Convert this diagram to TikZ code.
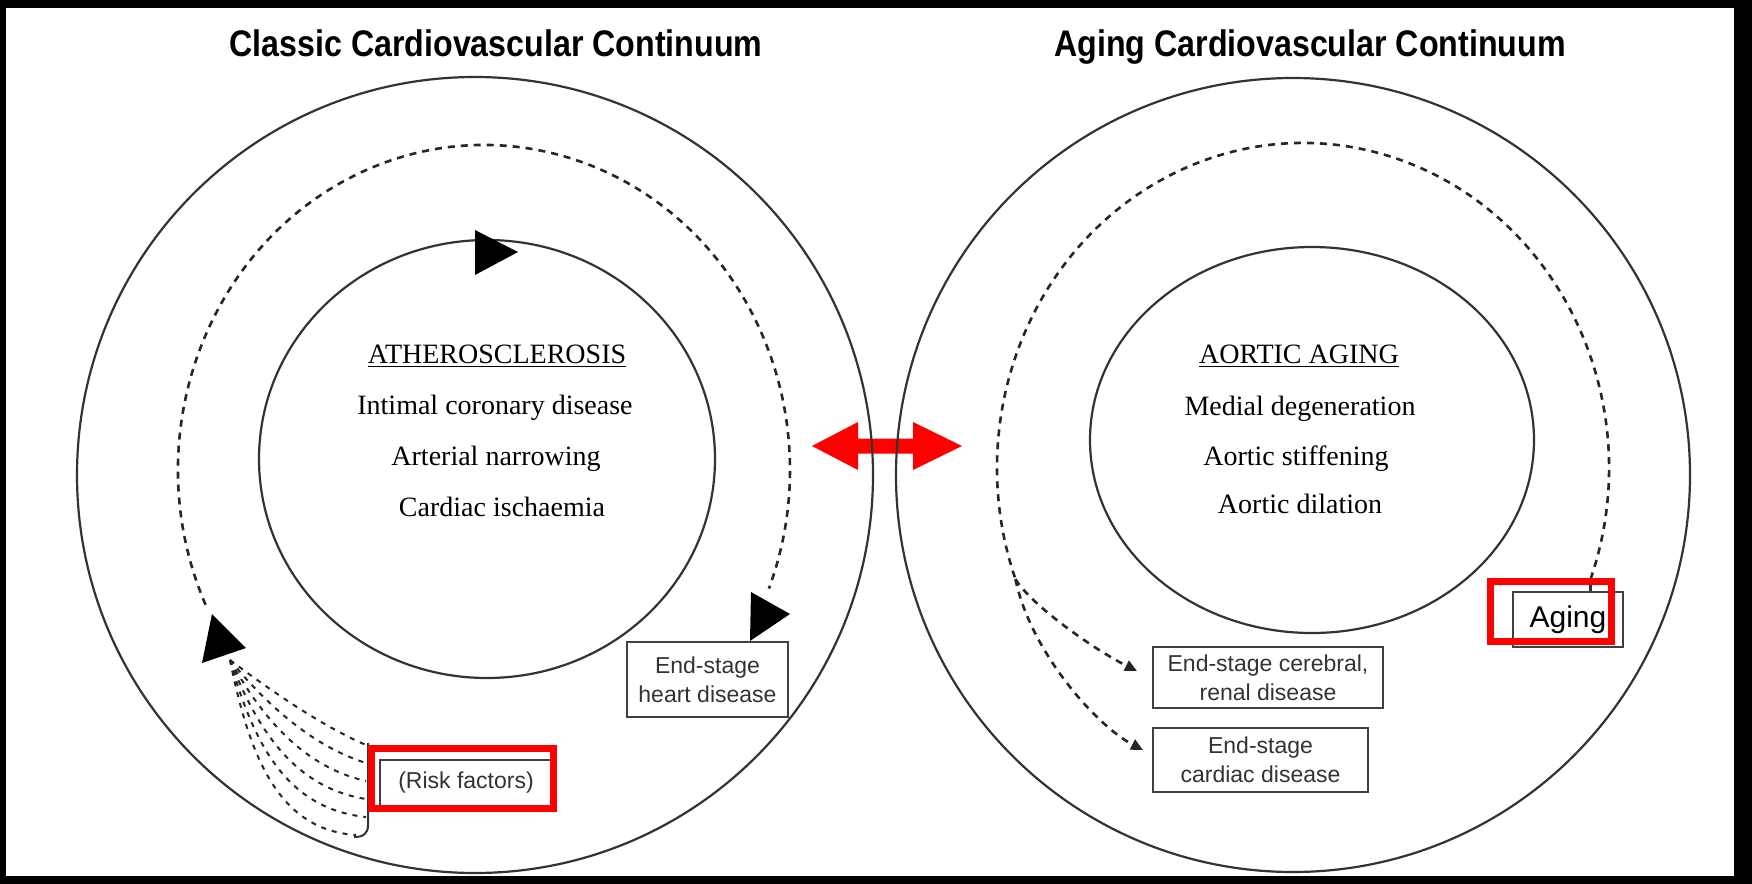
\documentclass[tikz,border=0pt]{standalone}
\usepackage{graphicx}
\usepackage{fontspec}
\setmainfont{Liberation Serif}
\setsansfont{Liberation Sans}
\usetikzlibrary{arrows.meta,calc}

\begin{document}
\begin{tikzpicture}[x=0.5pt,y=-0.5pt,
  ring/.style={draw=black!80, line width=1.1pt},
  flow/.style={draw=black!85, line width=1.3pt, dash pattern=on 3.5pt off 3pt},
  fanline/.style={draw=black!85, line width=1pt, dash pattern=on 2.5pt off 3pt},
  endbox/.style={draw=black!75, line width=1.3pt, fill=white, inner sep=0pt, align=center,
    font=\sffamily\fontsize{11.5}{14.5}\selectfont, text=black!80},
  hilite/.style={draw=red, line width=3.5pt},
  title/.style={font=\sffamily\bfseries\fontsize{18.5}{20}\selectfont, anchor=base},
  stage/.style={font=\rmfamily\fontsize{14}{16}\selectfont, anchor=base},
  smalltip/.style={-{Triangle[length=6pt,width=5.5pt]}}
]
\useasboundingbox (0,0) rectangle (1752,884);
\fill[black] (0,0) rectangle (1752,884);
\fill[white] (6,8) rectangle (1734,876);

% red double-headed arrow between the two continua
\fill[red] (812,446) -- (858,422) -- (858,438.5) -- (913,438.5) -- (913,422) -- (962,446)
  -- (913,470) -- (913,453.5) -- (858,453.5) -- (858,470) -- cycle;

% circle centres
\coordinate (oL) at (475,475);
\coordinate (oR) at (1293,475);
\coordinate (iL) at (487,459);
\coordinate (iR) at (1312,440);
\coordinate (dL) at (484,470);
\coordinate (dR) at (1303,468);

% outer and inner rings
\draw[ring] (oL) circle[radius=398];
\draw[ring] (oR) circle[radius=397];
\draw[ring] (iL) ellipse[x radius=228, y radius=219];
\draw[ring] (iR) ellipse[x radius=222, y radius=193];

% dashed progression arcs
\draw[flow] (dL) ++(155.5:306 and 325) coordinate (fanTop)
  arc[start angle=155.5, end angle=381.4, x radius=306, y radius=325] coordinate (heartIn);
\draw[flow] (dR) ++(20:306 and 325) coordinate (agingIn)
  arc[start angle=20, end angle=-200, x radius=306, y radius=325] coordinate (split);

% titles
\node[title] (tL) at (496,56) {\scalebox{0.87}[1]{Classic Cardiovascular Continuum}};
\node[title] (tR) at (1310,56) {\scalebox{0.87}[1]{Aging Cardiovascular Continuum}};

% inner circle texts
\node[stage] (athero) at (497,363) {\underline{ATHEROSCLEROSIS}};
\node[stage] (intimal) at (495,414) {Intimal coronary disease};
\node[stage] (narrow) at (496,465) {Arterial narrowing};
\node[stage] (ischaemia) at (502,516) {Cardiac ischaemia};

\node[stage] (aortic) at (1299,363) {\underline{AORTIC AGING}};
\node[stage] (medial) at (1300,415) {Medial degeneration};
\node[stage] (stiff) at (1296,465) {Aortic stiffening};
\node[stage] (dilation) at (1300,513) {Aortic dilation};

% boxes
\node[endbox, minimum width=80.5pt, minimum height=37.5pt] (heart) at (707.5,679.5) {End-stage\\heart disease};
\node[endbox, minimum width=86pt, minimum height=23pt] (risk) at (466,783) {(Risk factors)};
\node[endbox, minimum width=115pt, minimum height=30.5pt] (cerebral) at (1268,677.5) {End-stage cerebral,\\renal disease};
\node[endbox, minimum width=107.5pt, minimum height=32pt] (cardiac) at (1260.5,760) {End-stage\\cardiac disease};
\node[endbox, minimum width=55pt, minimum height=27.5pt, font=\sffamily\fontsize{15}{17}\selectfont, text=black] (aging) at (1568,619.5) {Aging};

% stub from the aging arc into its box
\draw[line width=1.2pt, black!80] (agingIn) -- (agingIn |- aging.north);

% branches to the end-stage boxes
\coordinate (tipA) at (1137,671);
\coordinate (tipB) at (1143,750);
\draw[flow, smalltip] (split) .. controls (1032,606) and (1095,650) .. (tipA);
\draw[flow, smalltip] (split) .. controls (1030,650) and (1095,725) .. (tipB);

% large arrowheads
\fill (475,230) -- (518,252) -- (475,275) -- cycle;
\fill (751,592) -- (790,614) -- (750,641) -- cycle;
\fill (212,614) -- (246,648) -- (202,663) -- cycle;

% risk factor fan
\coordinate (fan) at (230,660);
\foreach \t/\ey/\ex in {0/745/366, 0.2/763/366, 0.4/781/366, 0.6/799/366, 0.8/817/366, 1/835/356} {
  \draw[fanline] (fan) .. controls ({270-20*\t},{690+70*\t}) and ({320-40*\t},{725+105*\t}) .. (\ex,\ey);
}
\draw[line width=1pt, black!80] (368,743) -- (368,825) .. controls (368,834) and (363,837) .. (354,837);

% highlights
\draw[hilite] (371.5,748.5) rectangle (553.5,808.5);
\draw[hilite] (1490.5,581.5) rectangle (1611.5,641.5);
\end{tikzpicture}
\end{document}
